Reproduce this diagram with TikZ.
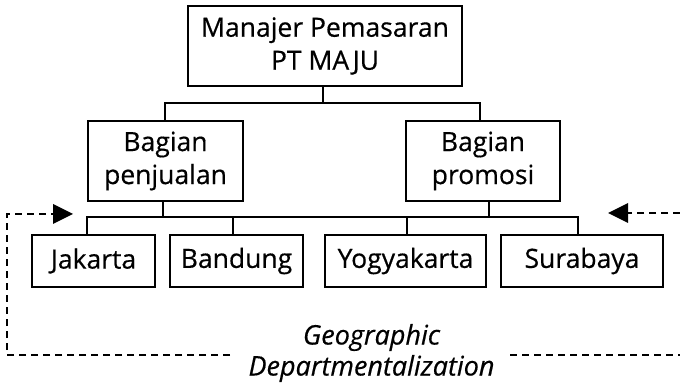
\documentclass[tikz,border=0pt]{standalone}
\usepackage{fontspec}
\setmainfont{Open Sans}[FakeBold=0.5]
\usetikzlibrary{arrows.meta}
\begin{document}
\begin{tikzpicture}[x=1pt,y=-1pt,
  box/.style={draw, line width=2.6pt, align=center, inner sep=0pt,
    font=\fontsize{26.5}{33}\selectfont},
  wire/.style={line width=2.6pt},
  guide/.style={line width=2.2pt, dash pattern=on 7pt off 5pt},
  tip/.style={-{Triangle[length=20pt,width=20pt]}}]
\useasboundingbox (0,0) rectangle (680,387);

% organisation boxes
\node[box, minimum width=274pt, minimum height=80pt] (top) at (325,46) {Manajer Pemasaran\\PT MAJU};
\node[box, minimum width=155pt, minimum height=80pt] (pen) at (165.5,161) {Bagian\\penjualan};
\node[box, minimum width=154pt, minimum height=80pt] (pro) at (483,161) {Bagian\\promosi};
\node[box, minimum width=123pt, minimum height=52pt] (jak) at (93.5,261) {Jakarta};
\node[box, minimum width=133pt, minimum height=52pt] (ban) at (236.5,261) {Bandung};
\node[box, minimum width=161pt, minimum height=52pt] (yog) at (405.5,261) {Yogyakarta};
\node[box, minimum width=162pt, minimum height=52pt] (sur) at (582,261) {Surabaya};

% branch points
\path ([xshift=-2pt]top.south) coordinate (t0)
      ([xshift=-0.5pt]pen.north) coordinate (p1)
      ([xshift=-3pt]pro.north) coordinate (q1)
      ([xshift=-2.5pt]pen.south) coordinate (p0)
      ([xshift=6pt]pro.south) coordinate (q0)
      ([xshift=-6.5pt]jak.north) coordinate (j1)
      ([xshift=-3.5pt]ban.north) coordinate (b1)
      ([xshift=1.5pt]yog.north) coordinate (y1)
      ([xshift=-4pt]sur.north) coordinate (s1);
\coordinate (upbus) at (0,103);
\coordinate (lowbus) at (0,217);

% tree connectors
\draw[wire] (t0) -- (t0 |- upbus);
\draw[wire] (p1) -- (p1 |- upbus) -- (q1 |- upbus) -- (q1);
\draw[wire] (p0) -- (p0 |- lowbus);
\draw[wire] (q0) -- (q0 |- lowbus);
\draw[wire] (j1) -- (j1 |- lowbus) -- (s1 |- lowbus) -- (s1);
\draw[wire] (b1) -- (b1 |- lowbus);
\draw[wire] (y1) -- (y1 |- lowbus);

% caption
\node[font=\fontsize{27}{31}\selectfont\itshape, align=center, inner sep=0pt] (cap) at (371.5,353) {Geographic\\Departmentalization};

% dashed guides with arrows
\coordinate (la) at (7,214);
\coordinate (lb) at (7,355);
\coordinate (lend) at (230,355);
\coordinate (ltip) at (73,214);
\coordinate (ra) at (680,213);
\coordinate (rtip) at (608,213);
\coordinate (rb) at (510,355);
\coordinate (rend) at (680,355);
\draw[guide] (lend) -- (lb) -- (la) -- (ltip);
\fill (ltip) -- ++(-20,-10) -- ++(0,20) -- cycle;
\draw[guide] (ra) -- ([xshift=20pt]rtip);
\fill (rtip) -- ++(20,-10) -- ++(0,20) -- cycle;
\draw[guide] (rb) -- (rend);
\end{tikzpicture}
\end{document}
